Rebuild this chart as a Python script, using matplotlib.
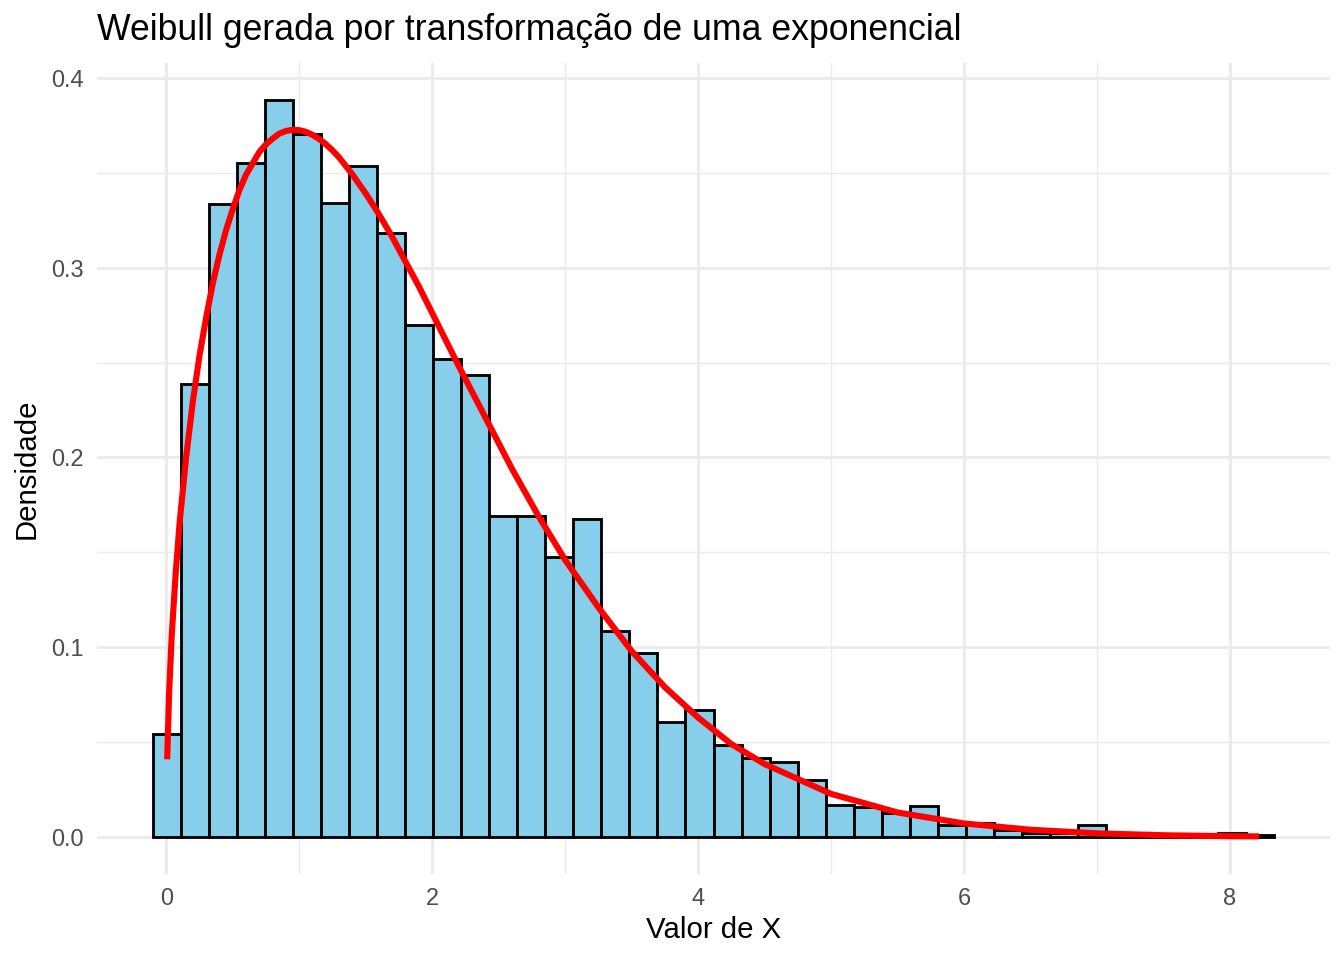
import numpy as np
import matplotlib
matplotlib.use("Agg")
import matplotlib.pyplot as plt
from matplotlib.ticker import MultipleLocator

plt.rcParams['font.family'] = ['Liberation Sans', 'DejaVu Sans']

# histogram: 40 bins, densities
bin_start = -0.1004
bin_width = 0.2108
densities = [0.0543, 0.2387, 0.3336, 0.3552, 0.3884, 0.3705, 0.3343, 0.3533, 0.3181, 0.2698,
             0.2519, 0.2435, 0.1693, 0.1693, 0.1474, 0.1674, 0.1086, 0.0971, 0.0608, 0.0669,
             0.0488, 0.0418, 0.0394, 0.0299, 0.0172, 0.0157, 0.0125, 0.0163, 0.0065, 0.0077,
             0.0040, 0.0022, 0.0022, 0.0063, 0.0010, 0.0005, 0.0005, 0.0005, 0.0024, 0.0012]

# theoretical density curve (red)
curve_x = [0.006, 0.02, 0.04, 0.07, 0.1, 0.15, 0.2, 0.25, 0.3, 0.35, 0.4, 0.45, 0.5, 0.55,
           0.6, 0.65, 0.7, 0.75, 0.8, 0.85, 0.9, 0.95, 1.0, 1.05, 1.1, 1.15, 1.2, 1.25,
           1.3, 1.4, 1.5, 1.6, 1.7, 1.8, 1.9, 2.0, 2.2, 2.4, 2.6, 2.8, 3.0, 3.25,
           3.5, 3.75, 4.0, 4.25, 4.5, 5.0, 5.5, 6.0, 6.5, 7.0, 7.5, 8.0, 8.22]
curve_y = [0.041, 0.075, 0.106, 0.139, 0.166, 0.201, 0.230, 0.254, 0.274, 0.292, 0.307,
           0.320, 0.331, 0.341, 0.349, 0.355, 0.361, 0.365, 0.368, 0.3706, 0.3720, 0.3726,
           0.3724, 0.3715, 0.3699, 0.3677, 0.365, 0.3617, 0.358, 0.349, 0.339, 0.328,
           0.316, 0.303, 0.290, 0.276, 0.248, 0.221, 0.194, 0.169, 0.146, 0.121, 0.098,
           0.079, 0.063, 0.049, 0.0385, 0.0228, 0.0130, 0.0072, 0.0039, 0.0020, 0.0010,
           0.0005, 0.0004]

x_ticks = [0, 2, 4, 6, 8]
y_ticks = [0.0, 0.1, 0.2, 0.3, 0.4]

fig = plt.figure(figsize=(7, 5), dpi=192)
ax = fig.add_axes([0.0722, 0.0896, 0.9174, 0.8448])

lefts = bin_start + bin_width * np.arange(len(densities))
ax.bar(lefts, densities, width=bin_width, align='edge', color='#87CEEB',
       edgecolor='black', linewidth=1.07, zorder=2)
ax.plot(curve_x, curve_y, color='#FF0000', linewidth=2.3, solid_capstyle='butt',
        solid_joinstyle='round', zorder=3)

ax.set_xlim(-0.5216, 8.753)
ax.set_ylim(-0.0194, 0.4078)
ax.set_xticks(x_ticks)
ax.set_xticklabels([str(t) for t in x_ticks])
ax.set_yticks(y_ticks)
ax.set_yticklabels([f'{t:.1f}' for t in y_ticks])
ax.xaxis.set_minor_locator(MultipleLocator(1))
ax.yaxis.set_minor_locator(MultipleLocator(0.05))

ax.grid(which='major', color='#EBEBEB', linewidth=1.07, zorder=0)
ax.grid(which='minor', color='#EBEBEB', linewidth=0.53, zorder=0)
ax.set_axisbelow(True)
for s in ax.spines.values():
    s.set_visible(False)
ax.tick_params(which='both', length=0, pad=5, labelsize=8.8, labelcolor='#4D4D4D')

ax.set_xlabel('Valor de X', fontsize=11, labelpad=2.2)
ax.set_ylabel('Densidade', fontsize=11, labelpad=3.8)
ax.set_title('Weibull gerada por transformação de uma exponencial', loc='left',
             fontsize=13.35, pad=8.6)

fig.savefig('out.png', dpi=192, facecolor='white')
